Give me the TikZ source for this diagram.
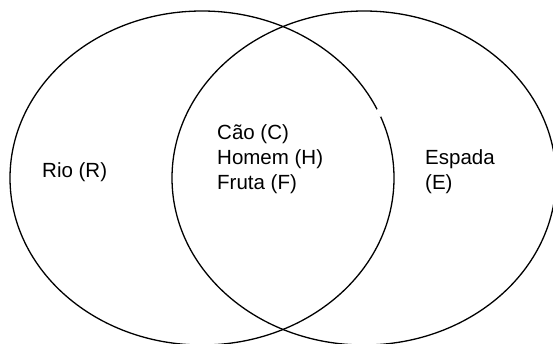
\documentclass[tikz,border=0pt]{standalone}
\usepackage{fontspec}
\setmainfont{Liberation Sans}
\begin{document}
\begin{tikzpicture}[x=1pt,y=-1pt,
  setline/.style={line width=1.3pt, black},
  lbl/.style={anchor=base west, inner sep=0pt, font=\fontsize{20.5}{25}\selectfont}]
\useasboundingbox (0,0) rectangle (553,343);
\clip (0,0) rectangle (553,343);
\fill[white] (0,0) rectangle (553,343);
\draw[setline] (202,178) ellipse [x radius=192, y radius=167];
\draw[setline] (364,178) ellipse [x radius=192, y radius=167];
\draw[white, line width=2.6pt] (377,109.5) -- (380.9,116.5);
\node[lbl] (rio) at (42,177) {Rio (R)};
\node[lbl] (cao) at (217,139.5) {Cão (C)};
\node[lbl] (homem) at (217,164.5) {Homem (H)};
\node[lbl] (fruta) at (217,189.5) {Fruta (F)};
\node[lbl] (espada) at (425,164.5) {Espada};
\node[lbl] (e) at (425,189.5) {(E)};
\end{tikzpicture}
\end{document}
